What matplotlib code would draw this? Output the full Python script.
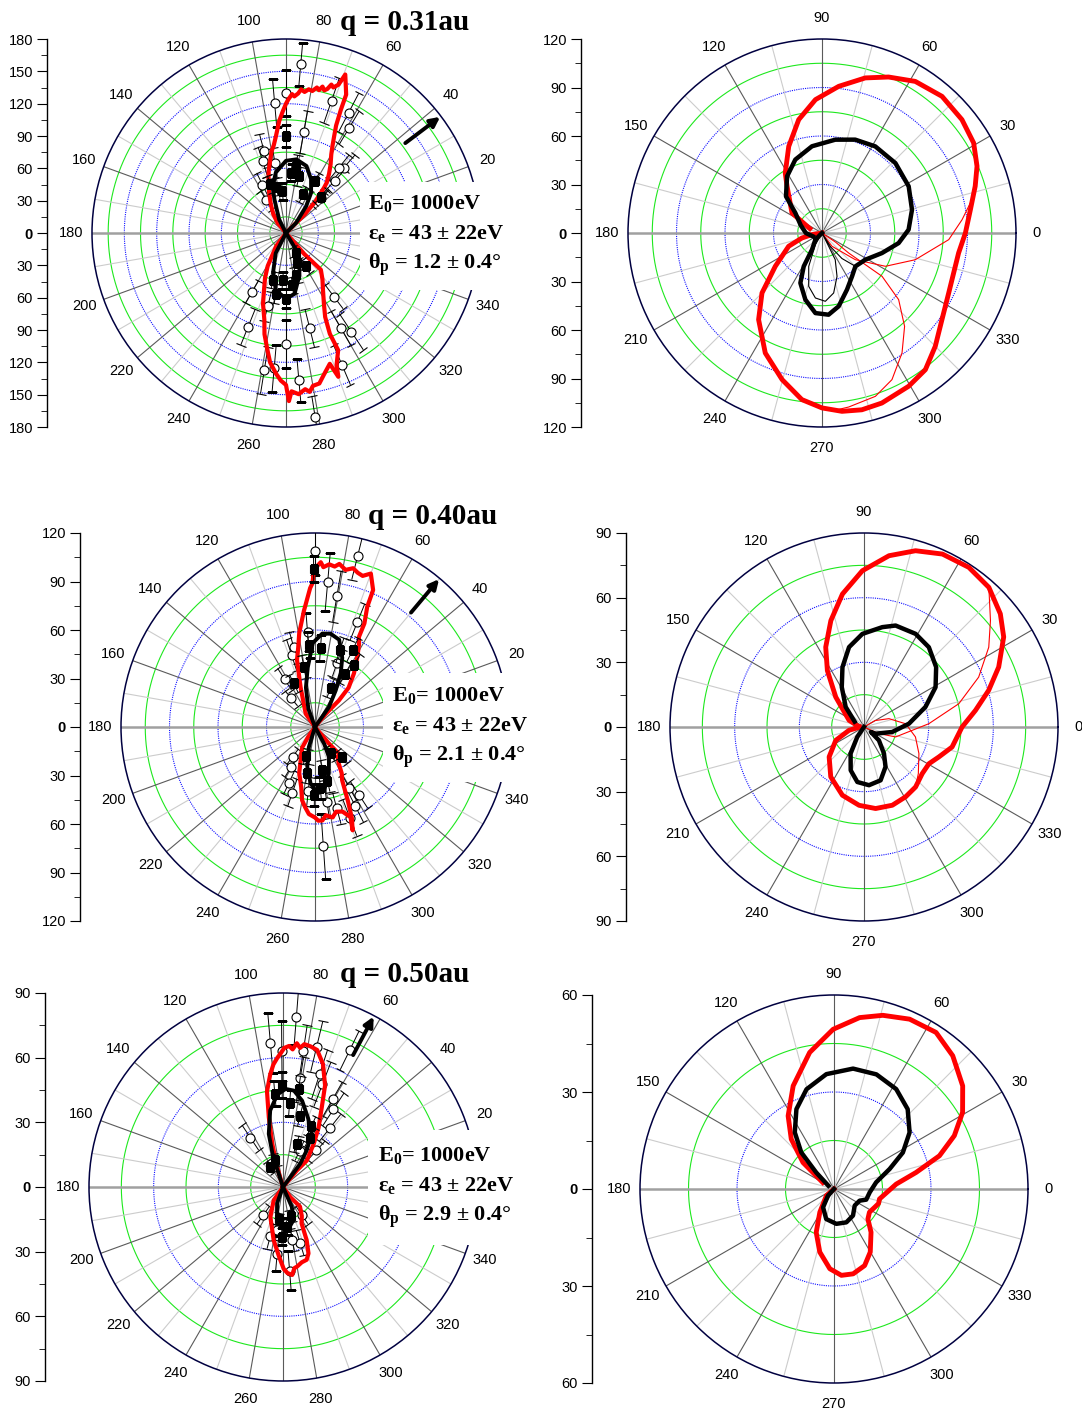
import numpy as np
import matplotlib.pyplot as plt
from matplotlib.patches import Rectangle

plt.rcParams['font.family'] = ['Liberation Sans', 'DejaVu Sans']
plt.rcParams['mathtext.fontset'] = 'custom'
plt.rcParams['mathtext.rm'] = 'Liberation Serif:bold'
plt.rcParams['mathtext.it'] = 'Liberation Serif:bold'
plt.rcParams['mathtext.bf'] = 'Liberation Serif:bold'

W, H = 1082, 1410
R = 194  # polar radius in pixels

# ---------------- q = 0.31 au : experiment (left) ----------------
p1_red = [(44, 0), (45, 25), (47, 40), (50, 55), (51, 60), (54, 68), (57, 76), (60, 84), (62, 92),
          (63.5, 100), (65, 110), (66, 125), (66.5, 140), (68, 148), (69.5, 157), (70.5, 146), (72, 142),
          (73, 144), (74, 139), (75, 137), (76, 140), (77, 136), (78, 138), (79.5, 134), (81, 135),
          (82.5, 132), (84, 134), (85, 130), (86.5, 127), (87.5, 129), (89, 124), (90, 120), (91.5, 113),
          (93.5, 104), (96, 90), (98, 82), (100, 77), (102, 70), (105.5, 60), (109, 50), (112.5, 41),
          (118, 30), (124, 21), (130, 12), (136, 0),
          (225, 0), (233, 15), (241, 35), (245, 46), (249, 57), (252, 69), (256, 83), (258, 96),
          (261, 110), (263, 121), (266, 131), (268, 137), (270, 141), (271, 156), (272, 147),
          (274.5, 150), (277, 146), (278.5, 149), (280, 144), (282.5, 143), (285, 136), (288.5, 128),
          (290, 142), (291, 131), (294, 119), (293.5, 102), (295, 86), (298, 75), (303, 63), (308, 55),
          (313.5, 47), (311, 26), (315, 0)]
p1_black = [(44, 0), (45, 13), (53, 31), (58, 44), (65, 55), (73, 65), (82, 69), (90, 67), (99.5, 57),
            (106, 45), (109, 33), (117, 14), (128, 0), (225, 0), (243, 21), (252, 39), (260, 54),
            (270, 61), (278, 57), (287, 42), (294, 31), (301, 18), (315, 0)]
p1_circ = [(85, 157, 20), (90, 130, 21), (95, 121, 22), (80, 95, 20), (71, 130, 22), (62.5, 126, 20),
           (59, 114, 18), (48.5, 81, 16), (51, 78, 15), (47, 66, 14), (105, 79, 16), (108, 70, 14),
           (99, 66, 14), (116, 50, 12), (121, 36, 10), (45, 46, 10), (240, 63, 12), (248, 94, 18),
           (256, 70, 14), (270, 103, 22), (261, 129, 22), (275, 137, 20), (279, 173, 20), (284, 91, 18),
           (307, 74, 14), (300, 102, 18), (303.5, 110, 20), (293, 133, 20), (265, 126, 22)]
p1_sq = [(90, 90, 10), (81.5, 63, 10), (77, 54, 9), (66.5, 39, 8), (61, 55, 9), (46, 47, 8), (102, 44, 8),
         (95, 39, 8), (108, 48, 8), (85, 56, 8), (270, 61, 9), (260.5, 57, 9), (277, 49, 8), (297, 21, 6),
         (301, 36, 7), (266, 44, 8), (283, 40, 8), (255, 45, 8), (290, 30, 7)]

# ---------------- q = 0.31 au : theory (right) ----------------
p2_red = [(160, 8), (146.3, 22.3), (126.8, 36.1), (121.5, 43.5), (111, 57.4), (101.6, 71.6), (92.8, 82.6),
          (83.5, 91.3), (74.4, 99.6), (66.9, 104.9), (58.4, 110.1), (48.7, 112.5), (39, 111.4),
          (30.7, 109.1), (23.3, 104.4), (17, 99.1), (8.9, 92.9), (0, 88.7), (-8.3, 85.4), (-16.9, 85.1),
          (-25.3, 86.7), (-35.8, 91.5), (-45, 99.1), (-52.9, 106), (-60.5, 108.9), (-70.6, 111.5),
          (-77.3, 112.1), (-83.6, 111), (-90, 108.2), (-96.9, 103.8), (-105.2, 94), (-115.3, 82.1),
          (-126.2, 66.4), (-135, 52.5), (-144.5, 35.5), (-158.3, 22.2), (-166, 12.8), (-171, 6.3), (-175, 0)]
p2_red_a = [(23.3, 104.4), (17, 99.1), (12.5, 95), (5.4, 87), (-3, 78.5), (-16, 60), (-27.7, 44.3),
            (-38.7, 26.4), (-53, 10.3), (-60, 0)]
p2_red_b = [(-30, 0), (-34, 10), (-36.9, 20.6), (-35.8, 45.8), (-41, 62.8), (-48.5, 77.1), (-56.3, 89.2),
            (-64.5, 100.5), (-71.9, 106.3), (-81.3, 108.9), (-86, 110)]
p2_black = [(200, 6), (180, 10), (160, 14), (143.1, 20.6), (134.5, 31.8), (121.6, 41.2), (110, 48.3),
            (96.6, 54), (81.9, 58.3), (70.4, 61.3), (58.4, 62.9), (43.6, 62.7), (28.3, 60.9), (14.5, 57.5),
            (2.2, 53.6), (-7.5, 47.8), (-18.5, 39.1), (-31.6, 31.5), (-45, 29.2), (-55.2, 32.6),
            (-66.2, 38.3), (-77.2, 46.5), (-85.4, 50.7), (-94.7, 49.7), (-104, 42.5), (-113.4, 33.7),
            (-118.7, 23.5), (-121, 12), (-135, 5.8), (-150, 0)]
p2_black_thin = [(-40, 30), (-45, 29), (-52, 20), (-58, 10), (-62, 0), (-63.4, 9.2), (-63.6, 18.4),
                 (-70.9, 28.4), (-79, 37.8), (-87.2, 42.3), (-95.8, 40.4), (-104, 34), (-111.7, 22.2),
                 (-120, 8), (-125, 0)]

# ---------------- q = 0.40 au : experiment ----------------
p3_red = [(47, 0), (51, 10), (48, 22), (49.5, 32), (54, 41), (59, 51), (62, 58), (64, 62), (64.5, 71),
          (66.5, 81), (67, 92), (70, 101), (72.5, 98), (74.5, 99), (76.5, 101), (79, 99), (81.5, 102),
          (83, 100), (85, 101), (87, 99), (88, 102), (89.5, 99), (90.5, 96), (91, 89), (92, 86),
          (95.5, 72), (99.5, 59), (102, 50), (105, 43), (110, 26), (125, 10), (135, 0),
          (228, 0), (235, 7), (238, 15), (251, 30), (257, 38), (260, 46), (263, 50), (266, 54), (270, 56),
          (272, 58), (274.5, 58), (277, 55), (281, 57), (284, 54), (288, 55), (291.5, 60), (290, 68),
          (292, 61), (294, 50), (297, 37), (300, 33), (303, 27), (307, 23), (312, 25), (310, 13), (315, 0)]
p3_black = [(52, 0), (55, 15), (60.5, 26), (64.5, 37), (68.5, 46), (74.5, 56), (80.5, 58.5), (85.5, 58),
            (91.5, 52), (97, 37), (103, 25), (110, 12), (120, 0), (245, 0), (253, 13), (259, 25),
            (265.5, 35), (272, 41), (278, 40), (286.5, 30), (295, 20.5), (298.5, 12), (305, 0)]
p3_circ = [(90, 109, 15), (76, 109, 15), (85, 90, 18), (80.5, 82, 16), (68, 70, 12), (94.5, 59, 12),
           (108, 47, 10), (105, 51, 10), (71, 42, 9), (122.5, 35, 8), (129.5, 23, 6), (233, 23, 6),
           (239, 29, 7), (251, 43, 9), (279, 47, 10), (274, 74, 20), (299.5, 43, 9), (303, 50, 10),
           (297, 55, 11), (264, 40, 9), (285, 52, 10), (291, 60, 12), (245, 38, 8)]
p3_sq = [(90.5, 98, 8), (94.5, 51, 8), (86, 49, 8), (72, 50, 8), (64, 53, 8), (60.5, 38, 7), (68, 26, 6),
         (100.5, 38, 7), (116, 30, 6), (58, 45, 8), (269.5, 42, 7), (283, 34, 7), (279.5, 27, 6),
         (260.5, 29, 6), (300.5, 19, 5), (312, 25, 5), (252.5, 19, 5), (275, 38, 7)]

# ---------------- q = 0.40 au : theory ----------------
p4_red = [(170, 3), (155.8, 7.6), (133.3, 19.1), (123, 31.2), (115.6, 41.1), (107.3, 51.7), (99.2, 62.5),
          (90.6, 72.5), (81.7, 80.3), (73.7, 85.2), (65.6, 88.1), (56.7, 88.6), (48.2, 86.9), (39.7, 82.2),
          (32.8, 77.1), (24, 68.4), (16.4, 60.3), (8.5, 52.3), (0, 45.5), (-12.8, 41.9), (-21.8, 37.4),
          (-29.5, 34.6), (-38.7, 34.6), (-49.3, 36.7), (-59.2, 37.7), (-70.1, 38.6), (-81.9, 38.2),
          (-93.6, 36.4), (-107.6, 33.2), (-123.7, 27.8), (-139.4, 21.3), (-154.7, 14.5), (-167.7, 7.1),
          (-178, 2)]
p4_red_a = [(48.2, 86.9), (40.1, 76.7), (32.6, 68.7), (23.5, 58), (13.8, 45.3), (2.9, 30.1),
            (-17.4, 15.4), (-24, 7.6), (-30, 0)]
p4_red_b = [(40, 0), (30, 6), (18.5, 12.2), (4.4, 19.4), (-10.9, 24.3), (-25.8, 28.3), (-40.6, 33.2),
            (-49.3, 36.7)]
p4_black = [(150, 5), (132.4, 12.6), (119.1, 21.2), (109.8, 29.5), (100.6, 37.7), (91, 43.2), (79.6, 47.1),
            (72.7, 49.3), (61, 49.4), (50.9, 47.7), (39.7, 43.5), (29.1, 38), (18.1, 30), (4.2, 20.9),
            (-10, 13.3), (-30, 6.2), (-36, 4), (-41.9, 9.3), (-53, 15.4), (-61.6, 21), (-72.7, 25.9),
            (-85.1, 27.1), (-96.9, 25.7), (-107.1, 21), (-116.8, 13.8), (-124, 5.6), (-130, 0)]

# ---------------- q = 0.50 au : experiment ----------------
p5_red = [(46, 0), (50, 10), (48, 16.5), (54.5, 24.5), (59, 32), (64, 41), (67.5, 51), (72, 60), (76, 65.5),
          (79, 66.5), (81.5, 67), (83, 65), (84.5, 67), (86, 64), (87.5, 65.5), (89.5, 64.5), (91, 62),
          (92.5, 60), (94.5, 57), (96.5, 52.5), (99.5, 45), (101.5, 33), (104, 20.5), (106.5, 9.5), (115, 0),
          (230, 0), (235, 7.5), (247, 15), (260, 25), (266.5, 32), (270.5, 38), (273, 40), (276, 41),
          (278, 38), (280, 37.5), (284, 36), (288, 35.5), (291, 33), (294, 27), (297, 19), (303, 16),
          (311, 12), (306, 6), (300, 0)]
p5_black = [(50, 0), (53.5, 13.5), (57, 20), (61.5, 28), (70, 34), (77.5, 41), (83.5, 45), (88.5, 45.5),
            (93.5, 43), (99.5, 36), (105, 25.5), (108, 15), (112, 0), (245, 0), (250, 8), (258.5, 14),
            (268.5, 18.5), (277.5, 19.5), (288, 16), (294, 10), (300, 0)]
p5_circ = [(85.5, 79, 13), (95, 67, 14), (90.5, 63, 14), (81.5, 64, 12), (76.5, 67, 12), (64, 70.5, 10),
           (72, 55, 12), (69, 51, 11), (81, 51, 10), (60.5, 47, 9), (57, 43, 9), (51.5, 35, 8),
           (123.5, 27.5, 7), (47.5, 23, 6), (65.5, 18.5, 5), (235, 16, 5), (255.5, 23.5, 6), (265, 31, 8),
           (274.5, 39, 9), (287, 27, 6), (304, 15.5, 5), (262, 20, 5), (280, 25, 5)]
p5_sq = [(90.5, 47.5, 6), (95, 43.5, 6), (81, 46, 6), (85.5, 39, 6), (76.5, 34, 5), (65, 31, 5),
         (61.5, 26, 5), (72.5, 21, 4), (106, 13, 3), (122, 11, 3), (269, 23, 4), (275.5, 18.5, 4),
         (262, 15, 3), (285, 14, 3)]

# ---------------- q = 0.50 au : theory ----------------
p6_red = [(150, 4), (139.5, 12.6), (130.6, 20.3), (122.1, 26.7), (111.6, 34.3), (100.1, 42.9), (90.3, 49.4),
          (81.5, 53.6), (74.3, 55.8), (66, 57.5), (56.9, 57.8), (48.3, 55.2), (38.7, 51), (30.8, 46.3),
          (23.9, 40.7), (17.5, 34.2), (11.4, 25.9), (4.5, 19.3), (-12.4, 14.4), (-18, 14.5), (-24.2, 13.8),
          (-33.2, 13.1), (-41.5, 14), (-49.4, 17.6), (-60.1, 22.5), (-68.2, 25.5), (-77.3, 26.9),
          (-85.1, 26.8), (-93, 24.7), (-102.7, 20), (-112.3, 14.5), (-121.4, 8.4), (-139, 3.1), (-150, 0)]
p6_black = [(150, 2), (137.2, 7.5), (131.8, 15.2), (124.7, 21.3), (115.2, 27.3), (105.4, 32), (93.8, 35.6),
            (81, 37.7), (69.7, 37.8), (58.1, 36.4), (47.3, 33.6), (36.8, 29.2), (27.9, 24.1), (19.8, 18.3),
            (9, 13.2), (-5.3, 11.1), (-18.3, 10.5), (-24.5, 8.7), (-38.7, 8.2), (-54.4, 10.1), (-69.7, 11),
            (-86.2, 10.8), (-104.5, 9.6), (-120.8, 6.6), (-132, 2.8), (-140, 0)]

q_labels = ['q = 0.31au', 'q = 0.40au', 'q = 0.50au']
theta_p = ['1.2', '2.1', '2.9']
arrow_deg = [37, 50, 62]

fig = plt.figure(figsize=(W / 100, H / 100), dpi=100)
NAVY = '#000040'


def make_panel(cx, cy, rmax, axis_x, lab_step, skip_zero=False):
    ax = fig.add_axes([(cx - R) / W, 1 - (cy + R) / H, 2 * R / W, 2 * R / H], projection='polar')
    ax.set_ylim(0, rmax)
    ax.set_yticks([])
    ax.grid(False)
    th = np.linspace(0, 2 * np.pi, 721)
    for k, rr in enumerate(np.arange(15, rmax, 15)):
        if k % 2 == 0:
            ax.plot(th, np.full_like(th, rr), color='#1ee81e', lw=0.8, zorder=1)
        else:
            ax.plot(th, np.full_like(th, rr), color='#1010ff', lw=0.8, ls=(0, (1, 1)), zorder=1)
    sub = lab_step // 2
    for a in range(0, 360, sub):
        if a % 180 == 0:
            continue
        dark = (a % lab_step == 0) or (a % 90 == 0)
        ax.plot([np.deg2rad(a)] * 2, [0, rmax], color='#5a5a5a' if dark else '#cccccc',
                lw=0.8, zorder=1)
    ax.plot([0, 0], [0, rmax], color='#a0a0a0', lw=1.8, zorder=1)
    ax.plot([np.pi, np.pi], [0, rmax], color='#a0a0a0', lw=1.8, zorder=1)
    angs = np.arange(0, 360, lab_step)
    if skip_zero:
        angs = angs[1:]
    ax.set_xticks(np.deg2rad(angs))
    ax.set_xticklabels([str(a) for a in angs])
    ax.tick_params(axis='x', pad=4, labelsize=10.5, length=4, direction='out', color=NAVY)
    ax.spines['polar'].set_color(NAVY)
    ax.spines['polar'].set_linewidth(1.1)

    sa = fig.add_axes([axis_x / W, 1 - (cy + R) / H, 0.0005, 2 * R / H])
    sa.set_ylim(-rmax, rmax)
    ticks = np.arange(-rmax, rmax + 1, 30)
    sa.set_yticks(ticks)
    sa.set_yticklabels([str(abs(int(t))) for t in ticks])
    sa.set_yticks(np.arange(-rmax, rmax + 1, 15), minor=True)
    sa.set_xticks([])
    for s in ['top', 'right', 'bottom']:
        sa.spines[s].set_visible(False)
    sa.spines['left'].set_linewidth(1.0)
    sa.patch.set_visible(False)
    sa.tick_params(axis='y', which='major', length=7, labelsize=10.5, pad=3)
    sa.tick_params(axis='y', which='minor', length=4)
    for lab in sa.get_yticklabels():
        if lab.get_text() == '0':
            lab.set_fontweight('bold')
    return ax


def curve(ax, pts, color, lw, z):
    a = np.array(pts, dtype=float)
    ax.plot(np.deg2rad(a[:, 0]), a[:, 1], color=color, lw=lw, zorder=z, solid_joinstyle='round')


def points(ax, pts, marker, face, ms, z):
    a = np.array(pts, dtype=float)
    ax.errorbar(np.deg2rad(a[:, 0]), a[:, 1], yerr=a[:, 2], fmt=marker, mfc=face, mec='k', ms=ms,
                mew=0.8, ecolor='k', elinewidth=0.7, capsize=3.5, capthick=0.7, zorder=z)


def text_box(ax, i, x0, y0, x1, y1, tx, ty, titx, tity, rmax):
    rect = Rectangle((x0 / W, 1 - y1 / H), (x1 - x0) / W, (y1 - y0) / H, transform=fig.transFigure,
                     facecolor='white', edgecolor='none', zorder=20, clip_on=False)
    ax.add_artist(rect)
    lines = [r'E$_0$= 1000eV', r'ε$_e$ = 43 ± 22eV', r'θ$_p$ = ' + theta_p[i] + ' ± 0.4°']
    for j, s in enumerate(lines):
        fig.text(tx / W, 1 - (ty + 31 * j) / H, s, family='Liberation Serif', weight='bold',
                 fontsize=16, va='center', ha='left', zorder=30)
    fig.text(titx / W, 1 - tity / H, q_labels[i], family='Liberation Serif', weight='bold',
             fontsize=21, va='center', ha='left')
    t = np.deg2rad(arrow_deg[i])
    ax.annotate('', xy=(t, rmax * 0.995), xytext=(t, rmax * 0.77),
                arrowprops=dict(arrowstyle='-|>', color='k', lw=2.8, mutation_scale=14,
                                shrinkA=0, shrinkB=0), annotation_clip=False, zorder=6)


# left column
left = [(286, 233, 180, 47, p1_red, p1_black, p1_circ, p1_sq, (360, 182, 540, 290), (368, 203), (340, 22)),
        (315, 727, 120, 80, p3_red, p3_black, p3_circ, p3_sq, (383, 673, 540, 782), (392, 695), (368, 517)),
        (283, 1187, 90, 45, p5_red, p5_black, p5_circ, p5_sq, (368, 1130, 540, 1245), (378, 1155), (340, 975))]
for i, (cx, cy, rmax, axx, red, blk, circ, sq, box, tpos, tit) in enumerate(left):
    ax = make_panel(cx, cy, rmax, axx, 20, skip_zero=True)
    points(ax, circ, 'o', 'white', 6.5, 3)
    curve(ax, red, '#ff0000', 3.0, 4)
    curve(ax, blk, 'black', 2.8, 5)
    points(ax, sq, 's', 'black', 5.2, 6)
    text_box(ax, i, *box, *tpos, *tit, rmax)

# right column
ax2 = make_panel(822, 233, 120, 581, 30)
curve(ax2, p2_red, '#ff0000', 3.5, 4)
curve(ax2, p2_red_a, '#ff0000', 0.8, 4)
curve(ax2, p2_red_b, '#ff0000', 0.8, 4)
curve(ax2, p2_black, 'black', 3.2, 5)
curve(ax2, p2_black_thin, 'black', 0.8, 5)

ax4 = make_panel(864, 727, 90, 626, 30)
curve(ax4, p4_red, '#ff0000', 3.5, 4)
curve(ax4, p4_red_a, '#ff0000', 0.8, 4)
curve(ax4, p4_red_b, '#ff0000', 0.8, 4)
curve(ax4, p4_black, 'black', 3.2, 5)

ax6 = make_panel(834, 1189, 60, 592, 30)
curve(ax6, p6_red, '#ff0000', 3.5, 4)
curve(ax6, p6_black, 'black', 3.2, 5)

fig.savefig('out.png', dpi=100, facecolor='white')
